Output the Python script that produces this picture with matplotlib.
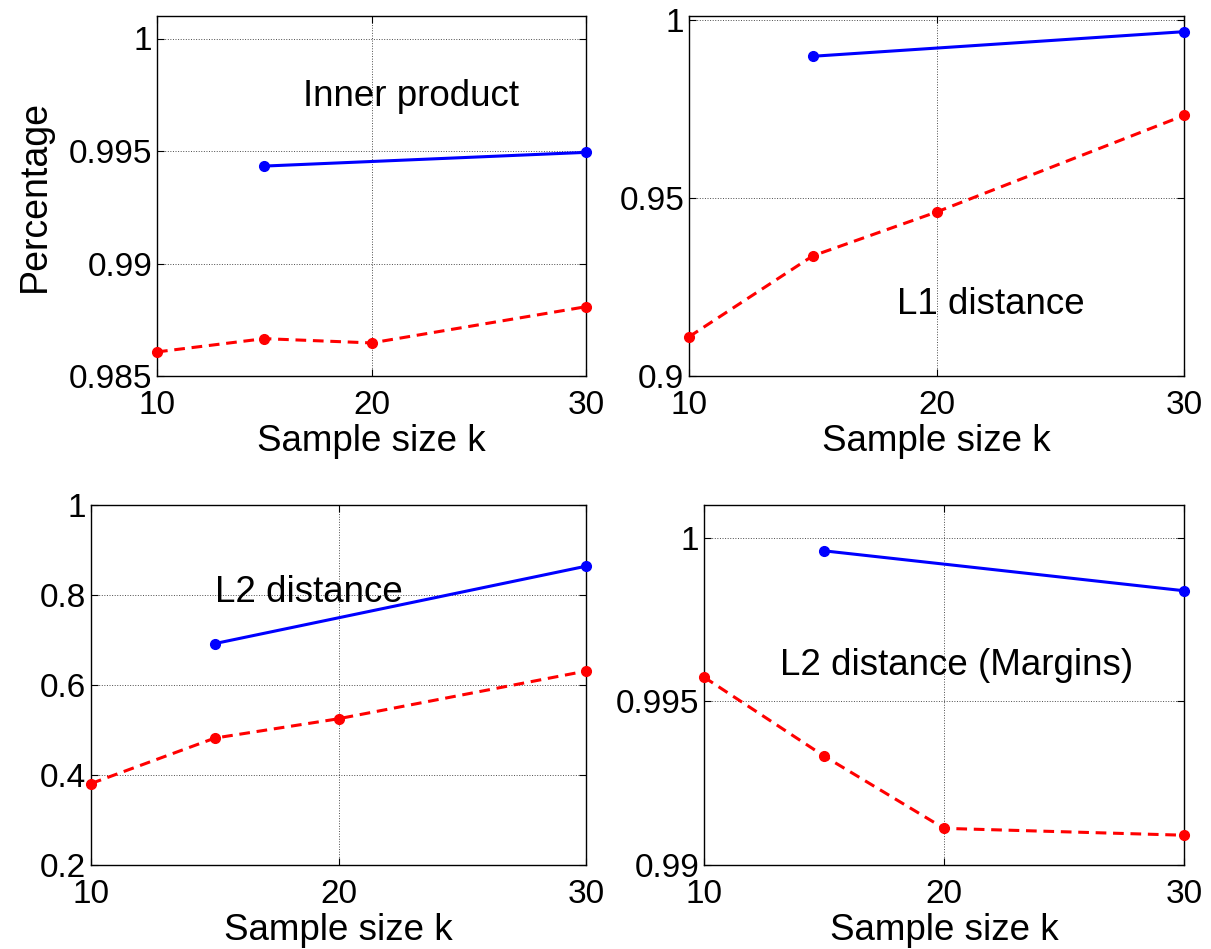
import numpy as np
import matplotlib.pyplot as plt

plt.rcParams['font.family'] = ['Liberation Sans', 'DejaVu Sans']

# sample sizes
k_blue = [15, 30]
k_red = [10, 15, 20, 30]

# inner product
ip_blue = [0.99433, 0.99494]
ip_red = [0.98607, 0.98666, 0.98647, 0.98808]

# L1 distance
l1_blue = [0.9897, 0.9966]
l1_red = [0.911, 0.9337, 0.946, 0.9731]

# L2 distance
l2_blue = [0.692, 0.864]
l2_red = [0.381, 0.482, 0.525, 0.631]

# L2 distance (margins)
l2m_blue = [0.99960, 0.99838]
l2m_red = [0.99574, 0.99333, 0.99112, 0.99091]

panels = [
    dict(blue=ip_blue, red=ip_red, ylim=(0.985, 1.001), yticks=[0.985, 0.99, 0.995, 1],
         yticklabels=['0.985', '0.99', '0.995', '1'], title='Inner product', tx=16.8, ty=0.9974,
         pos=[157, 16, 586, 376], ylabel='Percentage'),
    dict(blue=l1_blue, red=l1_red, ylim=(0.9, 1.001), yticks=[0.9, 0.95, 1],
         yticklabels=['0.9', '0.95', '1'], title='L1 distance', tx=18.4, ty=0.920,
         pos=[689, 16, 1184, 376], ylabel=None),
    dict(blue=l2_blue, red=l2_red, ylim=(0.2, 1.0), yticks=[0.2, 0.4, 0.6, 0.8, 1],
         yticklabels=['0.2', '0.4', '0.6', '0.8', '1'], title='L2 distance', tx=15.0, ty=0.805,
         pos=[91, 505, 586, 865], ylabel=None),
    dict(blue=l2m_blue, red=l2m_red, ylim=(0.99, 1.001), yticks=[0.99, 0.995, 1],
         yticklabels=['0.99', '0.995', '1'], title='L2 distance (Margins)', tx=13.16, ty=0.99611,
         pos=[704, 505, 1184, 865], ylabel=None),
]

W, H = 1211, 949
fig = plt.figure(figsize=(W / 100, H / 100), dpi=100)

for p in panels:
    x0, y0, x1, y1 = p['pos']
    ax = fig.add_axes([x0 / W, 1 - y1 / H, (x1 - x0) / W, (y1 - y0) / H])
    ax.plot(k_blue, p['blue'], '-', color='#0000ff', lw=2.2, marker='o', ms=7, zorder=3, clip_on=False)
    ax.plot(k_red, p['red'], '--', color='#ff0000', lw=2.2, marker='o', ms=7, zorder=3, clip_on=False,
            dashes=(3.5, 2.2))
    ax.set_xlim(10, 30)
    ax.set_ylim(*p['ylim'])
    ax.set_xticks([10, 20, 30])
    ax.set_yticks(p['yticks'])
    ax.set_yticklabels(p['yticklabels'])
    ax.tick_params(direction='in', length=5, width=0.8, labelsize=24, top=True, right=True)
    ax.tick_params(axis='x', pad=10)
    ax.tick_params(axis='y', pad=3.5)
    ax.grid(True, color='k', linestyle=':', linewidth=0.7, alpha=0.7)
    for s in ax.spines.values():
        s.set_linewidth(1.0)
    ax.set_xlabel('Sample size k', fontsize=26.5, labelpad=2)
    if p['ylabel']:
        ax.set_ylabel(p['ylabel'], fontsize=27, labelpad=11)
    ax.text(p['tx'], p['ty'], p['title'], fontsize=26.5, va='center', ha='left')

fig.savefig('out.png', dpi=100)
